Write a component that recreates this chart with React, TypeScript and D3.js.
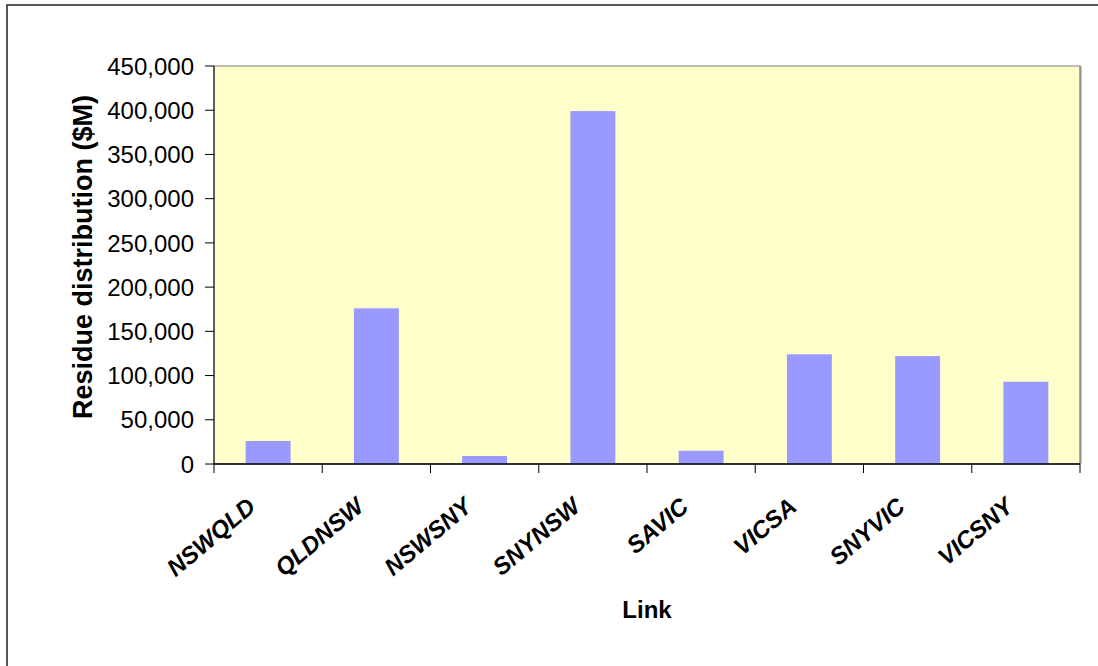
import React from "react";
import * as d3 from "d3";

const categories = ["NSWQLD", "QLDNSW", "NSWSNY", "SNYNSW", "SAVIC", "VICSA", "SNYVIC", "VICSNY"];
const values = [26000, 176000, 9000, 399000, 15000, 124000, 122000, 93000];
const yTicks = [0, 50000, 100000, 150000, 200000, 250000, 300000, 350000, 400000, 450000];

const W = 1098;
const H = 666;
const plot = { left: 214, top: 66, right: 1080, bottom: 464 };

export default function App() {
  const x = d3
    .scaleBand<string>()
    .domain(categories)
    .range([plot.left, plot.right])
    .paddingInner(0.585)
    .paddingOuter(0.2925);
  const xOuter = d3.scaleBand<string>().domain(categories).range([plot.left, plot.right]);
  const y = d3.scaleLinear().domain([0, 450000]).range([plot.bottom, plot.top]);
  const fmt = d3.format(",");
  const font = "Arial, 'Liberation Sans', sans-serif";

  return (
    <svg
      width={W}
      height={H}
      style={{ position: "absolute", left: 0, top: 0, background: "#fff" }}
      fontFamily={font}
    >
      <rect x={7} y={5} width={W + 10} height={H + 10} fill="#fff" stroke="#222" strokeWidth={1.5} />
      <rect
        x={plot.left}
        y={plot.top}
        width={plot.right - plot.left}
        height={plot.bottom - plot.top}
        fill="#FFFFCC"
        stroke="#808080"
        strokeWidth={1}
      />
      <line x1={plot.right + 0.5} x2={plot.right + 0.5} y1={plot.top} y2={plot.bottom} stroke="#909090" strokeWidth={2} />
      {categories.map((c, i) => (
        <rect key={c} x={x(c)} y={y(values[i])} width={x.bandwidth()} height={plot.bottom - y(values[i])} fill="#9999FF" />
      ))}
      {/* y axis */}
      <line x1={plot.left} x2={plot.left} y1={plot.top} y2={plot.bottom} stroke="#000" strokeWidth={1} />
      {yTicks.map((t) => (
        <g key={t}>
          <line x1={plot.left - 9} x2={plot.left} y1={y(t)} y2={y(t)} stroke="#000" strokeWidth={1} />
          <text x={194} y={y(t)} dy="0.36em" textAnchor="end" fontSize={24} fill="#000">
            {fmt(t)}
          </text>
        </g>
      ))}
      {/* x axis */}
      <line x1={plot.left} x2={plot.right} y1={plot.bottom} y2={plot.bottom} stroke="#000" strokeWidth={1.5} />
      {categories.concat(["__end"]).map((c, i) => {
        const px = i < categories.length ? (xOuter(c) as number) : plot.right;
        return <line key={c} x1={px} x2={px} y1={plot.bottom} y2={plot.bottom + 9} stroke="#000" strokeWidth={1} />;
      })}
      {categories.map((c) => {
        const cx = (xOuter(c) as number) + xOuter.bandwidth() / 2 - 11;
        const cy = 509;
        return (
          <text
            key={c}
            x={cx}
            y={cy}
            textAnchor="end"
            fontSize={24}
            fontWeight="bold"
            fontStyle="italic"
            transform={`rotate(-40 ${cx} ${cy})`}
            fill="#000"
          >
            {c}
          </text>
        );
      })}
      <text
        x={92}
        y={257}
        textAnchor="middle"
        fontSize={27}
        fontWeight="bold"
        transform={`rotate(-90 92 257)`}
        fill="#000"
      >
        Residue distribution ($M)
      </text>
      <text x={647} y={618} textAnchor="middle" fontSize={24} fontWeight="bold" fill="#000">
        Link
      </text>
    </svg>
  );
}
